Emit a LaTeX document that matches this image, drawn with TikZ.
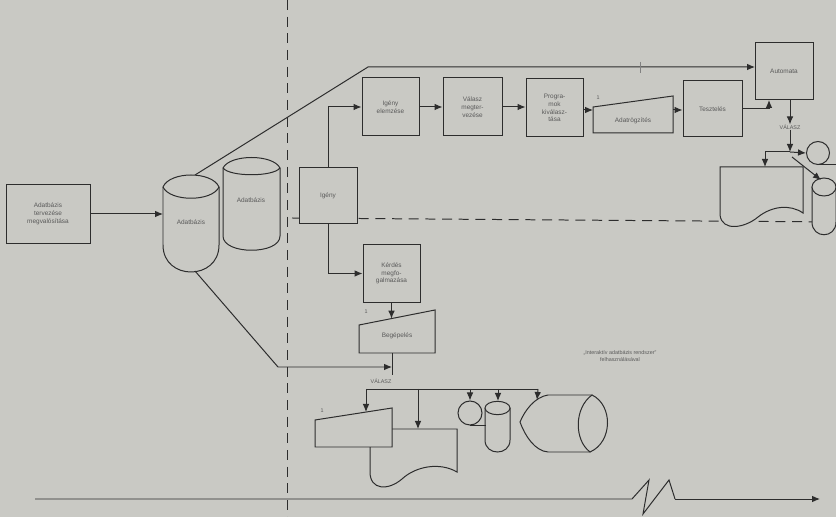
\documentclass[tikz,border=0pt]{standalone}
\usepackage{fontspec}
\setmainfont{Liberation Sans}
\usetikzlibrary{arrows.meta}
\definecolor{bg}{RGB}{201,201,196}
\definecolor{ink}{RGB}{45,45,45}
\definecolor{txt}{RGB}{90,90,90}
\newcommand\dlbl{\fontsize{5.5}{6.6}\selectfont}
\newcommand\dsml{\fontsize{4.6}{5.4}\selectfont}
\begin{document}
\begin{tikzpicture}[x=0.03cm,y=-0.03cm,
  shp/.style={draw=ink,fill=bg,line width=0.85pt},
  box/.style={shp,rectangle,inner sep=0pt,align=center,font=\dlbl,text=txt},
  lbl/.style={inner sep=0pt,align=center,font=\dlbl,text=txt},
  sml/.style={inner sep=0pt,align=center,font=\dsml,text=txt},
  ln/.style={draw=ink,line width=0.85pt},
  arr/.style={ln,-{Latex[length=2.4mm,width=2mm]}},
  dsh/.style={draw=ink,line width=0.85pt,dash pattern=on 0.3cm off 0.2cm}
]
\useasboundingbox (0,0) rectangle (836,517);
\fill[bg] (0,0) rectangle (836,517);

% dashed lines
\coordinate (dv1) at (287,0);
\coordinate (dv2) at (287,517);
\draw[dsh] (dv1) -- (dv2);
\coordinate (dh1) at (292,218);
\coordinate (dh2) at (836,222);
\draw[dsh] (dh1) -- (dh2);

% left box
\node[box,minimum width=2.52cm,minimum height=1.74cm] (tervez) at (48,214) {Adatbázis\\tervezése\\megvalósítása};

% cylinder 1
\draw[shp] (163,187) .. controls (170,171) and (212,171) .. (219,187) -- (219,245) .. controls (219,281) and (163,281) .. (163,245) -- cycle;
\draw[ln] (163,187) .. controls (170,202) and (212,202) .. (219,187);
\node[lbl] (c1) at (191,222) {Adatbázis};
\coordinate (c1w) at (163,214);
\coordinate (c1top) at (195,175);
\coordinate (c1bot) at (195,271);

% cylinder 2
\draw[shp] (223,168) .. controls (230,154) and (273,154) .. (280,168) -- (280,236) .. controls (280,255) and (223,255) .. (223,236) -- cycle;
\draw[ln] (223,168) .. controls (230,177) and (273,177) .. (280,168);
\node[lbl] (c2) at (251,200) {Adatbázis};

\draw[arr] (tervez.east) -- (c1w);

% top line to Automata
\coordinate (bend1) at (368,67);
\coordinate (autol) at (755,67);
\draw[arr] (c1top) -- (bend1) -- (autol);
\coordinate (tk1) at (640,62);
\coordinate (tk2) at (640,73);
\draw[draw=ink!60,line width=0.4pt] (tk1) -- (tk2);

% Igeny and upper chain
\node[box,minimum width=1.74cm,minimum height=1.68cm] (igeny) at (328,196) {Igény};
\node[box,minimum width=1.71cm,minimum height=1.74cm] (elemz) at (390.5,107) {Igény\\elemzése};
\node[box,minimum width=1.77cm,minimum height=1.74cm] (valasz) at (472.5,107) {Válasz\\megter-\\vezése};
\node[box,minimum width=1.71cm,minimum height=1.74cm] (prog) at (554.5,108) {Progra-\\mok\\kiválasz-\\tása};
\node[box,minimum width=1.77cm,minimum height=1.68cm] (teszt) at (712.5,109) {Tesztelés};
\node[box,minimum width=1.74cm,minimum height=1.71cm] (auto) at (784,71.5) {Automata};

\draw[arr] (igeny.north) |- (elemz.west);
\draw[arr] (elemz.east) -- (valasz.west);
\draw[arr] (valasz.east) -- (valasz.east -| prog.west);

% Adatrogzites trapezoid
\draw[shp] (593,107) -- (673,96) -- (673,133) -- (593,133) -- cycle;
\node[lbl] (adat) at (633,121) {Adatrögzítés};
\node[sml] (one1) at (598,98) {1};
\coordinate (adin) at (593,110);
\coordinate (adout) at (673,110);
\draw[arr] (prog.east |- adin) -- (adin);
\draw[arr] (adout) -- (adout -| teszt.west);
\coordinate (autoin) at (769,100);
\draw[arr] (teszt.east) -| (autoin);

% right output cluster
\coordinate (autoout) at (790,100);
\node[sml] (vr) at (790,127) {VÁLASZ};
\draw[arr] (autoout) -- (vr.north);
\coordinate (j) at (790,152);
\draw[arr] (vr.south) -- (j);
% right document
\draw[shp] (720,167) -- (803,167) -- (803,213) .. controls (790,204) and (772,206) .. (758,217) .. controls (745,228) and (722,232) .. (720,215) -- cycle;
\coordinate (doc2in) at (765,167);
\draw[arr] (j) -| (doc2in);
% right circle
\node[shp,circle,minimum size=0.69cm,inner sep=0pt] (circ2) at (818,153) {};
\coordinate (ct1) at (818,164.5);
\coordinate (ct2) at (836,164.5);
\draw[ln] (ct1) -- (ct2);
\draw[arr] (j) -- (circ2.west);
% right cylinder
\draw[shp] (812,187) -- (812,222) .. controls (812,239) and (836,239) .. (836,222) -- (836,187);
\draw[shp] (824,187) ellipse [x radius=0.36cm,y radius=0.27cm];
\coordinate (j2) at (792,157);
\coordinate (cyl3in) at (821,180);
\draw[arr] (j2) -- (cyl3in);

% Kerdes branch
\node[box,minimum width=1.71cm,minimum height=1.71cm] (kerdes) at (391.5,273.5) {Kérdés\\megfo-\\galmazása};
\draw[arr] (igeny.south) |- (kerdes.west);
\draw[shp] (359,325) -- (435,310) -- (435,353) -- (359,353) -- cycle;
\node[lbl] (begep) at (397,336) {Begépelés};
\node[sml] (one2) at (366,312) {1};
\coordinate (begin) at (391.5,318.6);
\draw[arr] (kerdes.south) -- (begin);
\coordinate (begout) at (392,353);
\coordinate (vl) at (392,375);
\draw[ln] (begout) -- (vl);
\coordinate (bend2) at (278,367);
\coordinate (vin) at (392,367);
\draw[arr] (c1bot) -- (bend2) -- (vin);
\node[sml] (vr2) at (381,381) {VÁLASZ};

% bus
\coordinate (b1) at (366,389);
\coordinate (b2) at (538,389);
\draw[ln] (b1) -- (b2);

% lower document
\draw[shp] (370,429) -- (457,429) -- (457,472) .. controls (440,462) and (416,466) .. (402,479) .. controls (388,491) and (370,490) .. (370,472) -- cycle;
% lower trapezoid
\draw[shp] (315,420) -- (392,408) -- (392,447) -- (315,447) -- cycle;
\node[sml] (one3) at (322,411) {1};
% circle and small cylinder
\node[shp,circle,minimum size=0.72cm,inner sep=0pt] (circ1) at (470,413) {};
\draw[shp] (485,408) -- (485,440) .. controls (485,456) and (510,456) .. (510,440) -- (510,408);
\draw[shp] (497.5,408) ellipse [x radius=0.375cm,y radius=0.2cm];
\coordinate (tg1) at (470,425);
\coordinate (tg2) at (486,425);
\draw[ln] (tg1) -- (tg2);
% display
\draw[shp] (592,395) -- (548,395) .. controls (535,397) and (525,410) .. (520,422) .. controls (525,436) and (535,451) .. (548,452) -- (590,452) -- cycle;
\draw[shp] (592,395) .. controls (613,405) and (613,442) .. (590,452) .. controls (574,440) and (574,408) .. (592,395);

\coordinate (d1) at (366,412);
\coordinate (d2) at (418,429);
\coordinate (d4) at (498,401);
\coordinate (d5) at (537,400);
\draw[arr] (b1) -- (d1);
\draw[arr] (d2 |- b1) -- (d2);
\draw[arr] (circ1.north |- b1) -- (circ1.north);
\draw[arr] (d4 |- b1) -- (d4);
\draw[arr] (b2) -- (d5);

\node[sml] (note) at (620,356) {,,Interaktív adatbázis rendszer''\\felhasználásával};

% time axis
\coordinate (t0) at (35,499);
\coordinate (z1) at (632,499);
\coordinate (z2) at (649,480);
\coordinate (z3) at (643,514);
\coordinate (z4) at (669,480);
\coordinate (z5) at (675,499);
\coordinate (t1) at (820,499);
\draw[ln] (t0) -- (z1) -- (z2) -- (z3) -- (z4) -- (z5);
\draw[arr] (z5) -- (t1);
\end{tikzpicture}
\end{document}
